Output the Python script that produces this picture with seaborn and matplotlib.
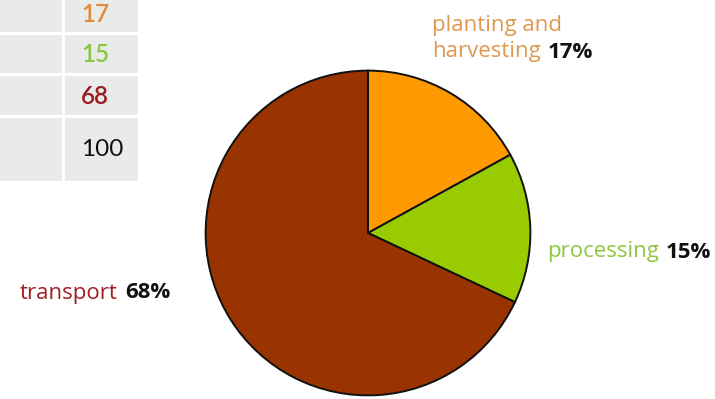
import matplotlib
matplotlib.use("Agg")
import matplotlib.pyplot as plt
from matplotlib.patches import Rectangle
import seaborn as sns

# data
categories = ["planting and\nharvesting", "processing", "transport"]
shares = [17, 15, 68]
table_values = ["17", "15", "68", "100"]

slice_colors = ["#FF9900", "#99CC00", "#993300"]
label_colors = ["#E0974E", "#8DC63F", "#A31D24"]
table_colors = ["#E08A3A", "#8DC63F", "#9B1B1F", "#111111"]

sns.set_theme(style="white")
plt.rcParams["font.family"] = ["Open Sans", "DejaVu Sans"]

W, H = 715, 399
fig = plt.figure(figsize=(W / 100, H / 100), dpi=100)
fig.patch.set_facecolor("white")


def px_axes(left, top, width, height):
    return fig.add_axes([left / W, 1 - (top + height) / H, width / W, height / H])


# pie
cx, cy, r = 368, 233, 164
ax = px_axes(cx - r, cy - r, 2 * r, 2 * r)
ax.pie(shares, colors=slice_colors, startangle=90, counterclock=False,
       wedgeprops=dict(edgecolor="#111111", linewidth=1.4))
ax.set_xlim(-1.01, 1.01)
ax.set_ylim(-1.01, 1.01)
ax.set_aspect("equal")
ax.axis("off")

# table fragment
tab = px_axes(0, 0, 139, 182)
tab.set_xlim(0, 139)
tab.set_ylim(182, 0)
tab.axis("off")
row_edges = [-20, 33, 74, 116, 182]
col_edges = [-20, 63, 139]
for i in range(len(table_values)):
    for j in range(2):
        tab.add_patch(Rectangle((col_edges[j], row_edges[i]),
                                col_edges[j + 1] - col_edges[j],
                                row_edges[i + 1] - row_edges[i],
                                facecolor="#E8EBEA", edgecolor="white", linewidth=2.2))
    yc = (row_edges[i] + row_edges[i + 1]) / 2 if i else 13
    tab.text(81, yc + 1, table_values[i], color=table_colors[i], fontsize=17.5,
             fontweight="semibold" if i < 3 else "normal", ha="left", va="center",
             family=["Lato", "DejaVu Sans"])

# labels: each line placed, then the bold percentage after the last line
label_pos = [(432, 25), (547, 252), (20, 293)]
line_gap = 27
fig.canvas.draw()
renderer = fig.canvas.get_renderer()
for name, val, col, (lx, ly) in zip(categories, shares, label_colors, label_pos):
    lines = name.split("\n")
    for k, line in enumerate(lines):
        y = ly + k * line_gap
        t = fig.text(lx / W, 1 - y / H, line, color=col, fontsize=16,
                     ha="left", va="center")
    bb = t.get_window_extent(renderer=renderer)
    fig.text((bb.x1 + 7) / W, 1 - y / H, f"{val}%", color="#111111",
             fontsize=16, fontweight="bold", ha="left", va="center")

fig.savefig("out.png", dpi=100)
